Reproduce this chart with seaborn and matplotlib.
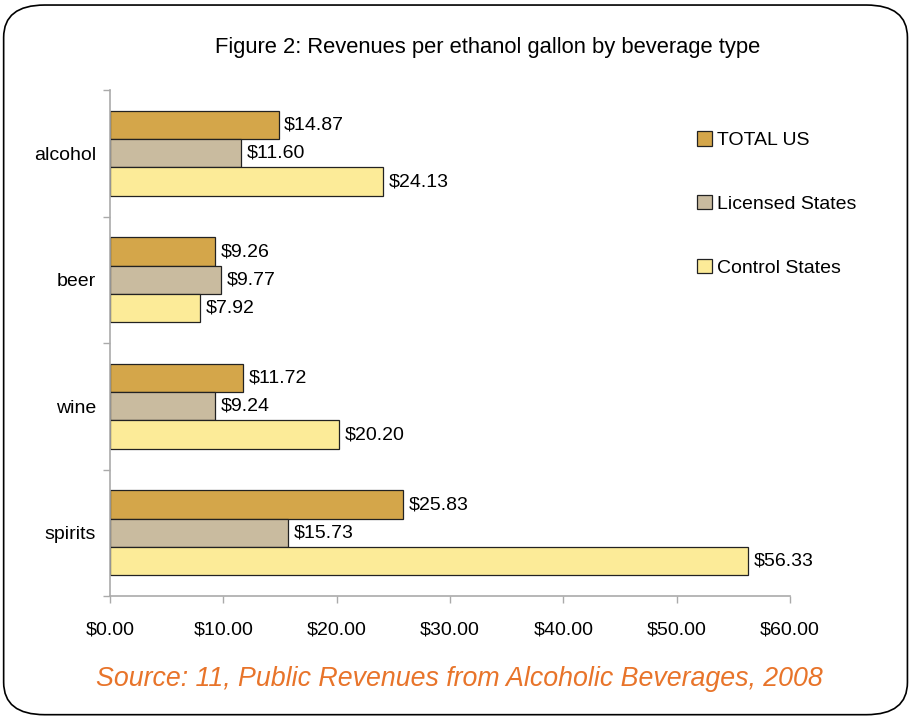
import matplotlib
matplotlib.use("Agg")
import matplotlib.pyplot as plt
import seaborn as sns
import pandas as pd
from matplotlib.patches import FancyBboxPatch
from matplotlib.ticker import FixedLocator

categories = ["alcohol", "beer", "wine", "spirits"]
series = ["TOTAL US", "Licensed States", "Control States"]
total_us = [14.87, 9.26, 11.72, 25.83]
licensed = [11.60, 9.77, 9.24, 15.73]
control = [24.13, 7.92, 20.20, 56.33]
xticks = [0, 10, 20, 30, 40, 50, 60]
colors = ["#D4A64A", "#C9BB9F", "#FCEB98"]

rows = []
for s, vals in zip(series, [total_us, licensed, control]):
    for c, v in zip(categories, vals):
        rows.append({"category": c, "series": s, "value": v})
df = pd.DataFrame(rows)

sns.set_theme(style="white")
plt.rcParams["font.family"] = ["Liberation Sans", "DejaVu Sans"]

fig = plt.figure(figsize=(9.12, 7.19), dpi=100)
ax = fig.add_axes([0.1206, 0.171, 0.7456, 0.7038])

sns.barplot(data=df, y="category", x="value", hue="series", order=categories,
            hue_order=series, palette=colors, saturation=1, orient="h", width=0.67,
            edgecolor="#222222", linewidth=0.9, ax=ax, legend=True)

for cont in ax.containers:
    ax.bar_label(cont, labels=[f"${v:.2f}" for v in cont.datavalues],
                 padding=4, fontsize=14, color="black")

ax.set_xlim(0, 60)
ax.set_ylim(3.5, -0.5)
ax.set_xticks(xticks)
ax.set_xticklabels([f"${t:.2f}" for t in xticks], fontsize=14, color="black")
ax.set_yticks(range(len(categories)))
ax.set_yticklabels(categories, fontsize=14, color="black")
ax.yaxis.set_minor_locator(FixedLocator([-0.5, 0.5, 1.5, 2.5, 3.5]))
ax.tick_params(axis="y", which="major", left=False, length=0, pad=10)
ax.tick_params(axis="y", which="minor", left=True, length=5, color="#AAAAAA", width=1)
ax.tick_params(axis="x", which="major", bottom=True, length=5, color="#AAAAAA",
               width=1, pad=13)
ax.set_xlabel("")
ax.set_ylabel("")
for side in ["top", "right"]:
    ax.spines[side].set_visible(False)
for side in ["left", "bottom"]:
    ax.spines[side].set_color("#AAAAAA")
    ax.spines[side].set_linewidth(1.2)

leg = ax.legend(loc="center left", bbox_to_anchor=(0.754, 0.716),
                bbox_transform=fig.transFigure, frameon=False, borderpad=0,
                fontsize=14, labelspacing=2.36, handlelength=0.75,
                handleheight=0.75, handletextpad=0.25)
for t in leg.get_texts():
    t.set_color("black")

fig.text(0.535, 0.9346, "Figure 2: Revenues per ethanol gallon by beverage type",
         ha="center", va="center", fontsize=15.8, color="black")
fig.text(0.504, 0.0556, "Source: 11, Public Revenues from Alcoholic Beverages, 2008",
         ha="center", va="center", fontsize=19.3, style="italic", color="#E8742A")

border = FancyBboxPatch((0.004, 0.006), 0.991, 0.987,
                        boxstyle="round,pad=0,rounding_size=0.045",
                        transform=fig.transFigure, fill=False,
                        edgecolor="black", linewidth=1.2)
fig.patches.append(border)

fig.savefig("out.png", dpi=100, facecolor="white")
